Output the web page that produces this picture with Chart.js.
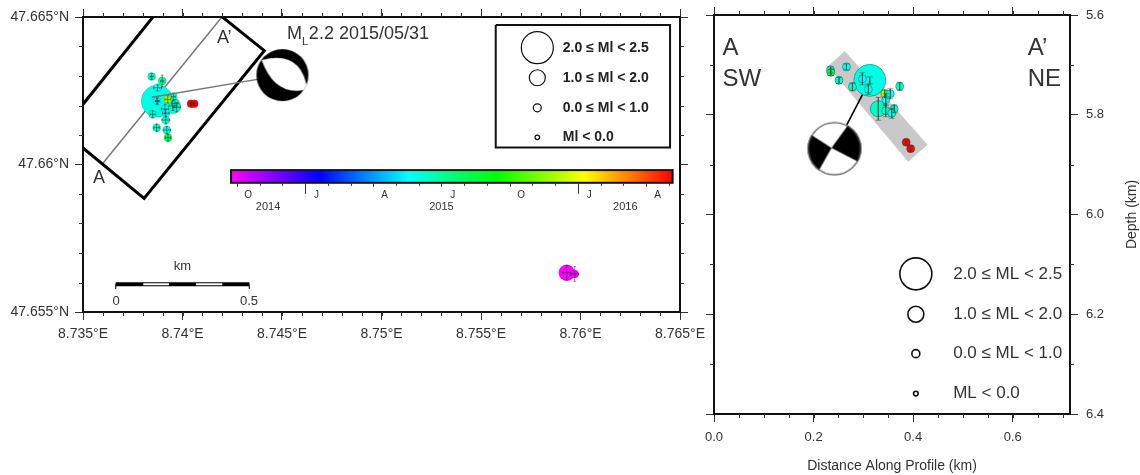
<!DOCTYPE html>
<html>
<head>
<meta charset="utf-8">
<title>ML 2.2 2015/05/31</title>
<script src="https://cdn.jsdelivr.net/npm/chart.js@4"></script>
<style>
    body { margin: 0; background: #fff; width: 1140px; height: 475px; overflow: hidden; }
    canvas { position: absolute; top: 0; }
    #map-chart { left: 0; }
    #profile-chart { left: 700px; }
</style>
</head>
<body>
<canvas id="map-chart" width="720" height="350"></canvas>
<canvas id="profile-chart" width="440" height="475"></canvas>
<script>
// Map view: events
const mapLon = [8.73873, 8.73951, 8.73845, 8.73898, 8.73875, 8.73954, 8.73872, 8.73912, 8.73962, 8.73971, 8.7385, 8.73916, 8.73916, 8.7387, 8.73921, 8.73927, 8.73926, 8.74043, 8.74059, 8.75931, 8.75971];
const mapLat = [47.66215, 47.66199, 47.66298, 47.66283, 47.6626, 47.6623, 47.66215, 47.66188, 47.66207, 47.66194, 47.6617, 47.66151, 47.66174, 47.66125, 47.66117, 47.66091, 47.66221, 47.66206, 47.66206, 47.65633, 47.65629];
const mapMag = [2.2, 1.3, 0.5, 0.4, 0.5, 0.3, 0.6, 0.5, 0.4, 0.5, 0.3, 0.5, 0.4, 0.5, 0.6, 0.5, 0.6, 0.4, 0.4, 1.2, 0.5];
const mapDate = [2015.41, 2015.45, 2015.44, 2015.51, 2015.39, 2015.44, 2015.39, 2015.39, 2015.44, 2015.44, 2015.44, 2015.45, 2015.39, 2015.44, 2015.41, 2015.592, 2015.889, 2016.34, 2016.34, 2014.735, 2014.735];
const mapLonErr = [0.0001, 0.0002, 0.00008, 0.00008, 0.0002, 0.0001, 0.00008, 0.00018, 0.00016, 0.00018, 0.00012, 0.0002, 0.00016, 0.00014, 0.00018, 0.00012, 0.00014, 0.00012, 0.00012, 0.0002, 0.0002];
const mapLatErr = [0.0001, 0.00016, 0.0001, 0.0002, 0.0001, 0.00012, 0.0001, 0.00016, 0.00014, 0.00016, 0.00012, 0.00014, 0.00012, 0.00012, 0.00012, 0.00012, 0.00012, 0.00006, 0.00006, 0.00025, 0.00025];

// Profile view: events
const profDist = [0.313, 0.33, 0.234, 0.2346, 0.266, 0.251, 0.278, 0.298, 0.31, 0.373, 0.343, 0.354, 0.345, 0.345, 0.362, 0.357, 0.386, 0.395];
const profDepth = [5.731, 5.788, 5.71, 5.715, 5.704, 5.731, 5.744, 5.728, 5.749, 5.743, 5.758, 5.758, 5.77, 5.792, 5.788, 5.797, 5.855, 5.868];
const profMag = [2.2, 1.3, 0.5, 0.6, 0.4, 0.5, 0.5, 0.5, 0.5, 0.4, 0.6, 0.5, 0.5, 0.5, 0.5, 0.5, 0.4, 0.4];
const profDate = [2015.41, 2015.45, 2015.39, 2015.592, 2015.39, 2015.44, 2015.44, 2015.39, 2015.39, 2015.44, 2015.889, 2015.39, 2015.39, 2015.44, 2015.44, 2015.39, 2016.34, 2016.34];
const profDepthErr = [0.007, 0.023, 0.006, 0.006, 0.006, 0.006, 0.008, 0.012, 0.01, 0.008, 0.008, 0.01, 0.012, 0.012, 0.008, 0.01, 0.005, 0.005];

// Swath outline and cross section on the map
const swathLon = [8.73988, 8.74411, 8.73807, 8.73394, 8.73988];
const swathLat = [47.66615, 47.66386, 47.65885, 47.66115, 47.66615];
const sectionLon = [8.73601, 8.74198];
const sectionLat = [47.66005, 47.665];

// Grey band on the profile
const bandDist = [0.2627, 0.429, 0.39, 0.229, 0.2627];
const bandDepth = [5.672, 5.86, 5.894, 5.703, 5.672];

// Focal mechanisms and their leader lines
const mapBallLon = [8.74502];
const mapBallLat = [47.66303];
const mapLeaderLon = [8.73846, 8.74502];
const mapLeaderLat = [47.66228, 47.66303];
const profBallDist = [0.242];
const profBallDepth = [5.868];
const profLeaderDist = [0.313, 0.242];
const profLeaderDepth = [5.731, 5.868];

// Legends
const legendMags = [2.2, 1.5, 0.5, -0.5];
const mapLegendLon = [8.75783, 8.75783, 8.75783, 8.75783];
const mapLegendLat = [47.66396, 47.66294, 47.66192, 47.66092];
const mapLegendText = ['2.0 ≤ Ml < 2.5', '1.0 ≤ Ml < 2.0', '0.0 ≤ Ml < 1.0', 'Ml < 0.0'];
const mapLegendBoxLon = [8.75574, 8.7645, 8.7645, 8.75574, 8.75574];
const mapLegendBoxLat = [47.66473, 47.66473, 47.66058, 47.66058, 47.66473];
const profLegendDist = [0.4054, 0.4054, 0.4054, 0.4054];
const profLegendDepth = [6.119, 6.2, 6.279, 6.359];
const profLegendText = ['2.0 ≤ ML < 2.5', '1.0 ≤ ML < 2.0', '0.0 ≤ ML < 1.0', 'ML < 0.0'];

// Scale bar
const scaleBarLon = [8.73664, 8.73803, 8.73932, 8.74068, 8.742, 8.74336];
const scaleBarLat = 47.65594;

// Axis ticks
const lonTicks = [8.735, 8.74, 8.745, 8.75, 8.755, 8.76, 8.765];
const latTicks = [47.655, 47.66, 47.665];
const distTicks = [0, 0.2, 0.4, 0.6];
const depthTicks = [5.6, 5.8, 6.0, 6.2, 6.4];

// Colour bar, time range and tick labels
const barLon = [8.74244, 8.76463];
const barLat = [47.65981, 47.65938];
const barStart = 2014.729;
const barEnd = 2016.347;
const barQuarterDates = [2014.75, 2015, 2015.25, 2015.5, 2015.75, 2016, 2016.25];
const barQuarterLabels = ['O', 'J', 'A', 'J', 'O', 'J', 'A'];
const barYears = [2014, 2015, 2016];

const TEXT_COLOR = '#333';
const FONT = '"Liberation Sans", Arial, sans-serif';

function zip(xs, ys) {
    return xs.map((x, i) => ({ x: x, y: ys[i] }));
}

function colorForDate(date) {
    const f = Math.min(1, Math.max(0, (date - barStart) / (barEnd - barStart)));
    return `hsl(${300 * (1 - f)}, 100%, 50%)`;
}

function radiusForMag(mag) {
    if (mag >= 2) return 16;
    if (mag >= 1) return 8;
    if (mag >= 0) return 4;
    return 2.3;
}

function lineSet(points, color, width, extra) {
    return Object.assign({
        data: points,
        showLine: true,
        borderColor: color,
        borderWidth: width,
        pointRadius: 0,
        tension: 0
    }, extra || {});
}

function eventSet(xs, ys, mags, dates, outline) {
    return {
        data: zip(xs, ys),
        pointRadius: mags.map(radiusForMag),
        pointBackgroundColor: dates.map(colorForDate),
        pointBorderColor: outline,
        pointBorderWidth: 0.7
    };
}

function legendSet(xs, ys, width) {
    return {
        data: zip(xs, ys),
        pointRadius: legendMags.map(radiusForMag),
        pointBackgroundColor: 'rgba(0,0,0,0)',
        pointBorderColor: '#111',
        pointBorderWidth: width
    };
}

// Error bars with caps as one broken line
function errorPoints(xs, ys, xErr, yErr, capX, capY) {
    const pts = [];
    const gap = { x: null, y: null };
    xs.forEach((x, i) => {
        const y = ys[i];
        pts.push({ x: x, y: y - yErr[i] }, { x: x, y: y + yErr[i] }, gap);
        pts.push({ x: x - capX, y: y - yErr[i] }, { x: x + capX, y: y - yErr[i] }, gap);
        pts.push({ x: x - capX, y: y + yErr[i] }, { x: x + capX, y: y + yErr[i] }, gap);
        if (xErr) {
            pts.push({ x: x - xErr[i], y: y }, { x: x + xErr[i], y: y }, gap);
            pts.push({ x: x - xErr[i], y: y - capY }, { x: x - xErr[i], y: y + capY }, gap);
            pts.push({ x: x + xErr[i], y: y - capY }, { x: x + xErr[i], y: y + capY }, gap);
        }
    });
    return pts;
}

function ballCanvas(radius, paint) {
    const c = document.createElement('canvas');
    c.width = c.height = radius * 2 + 2;
    const ctx = c.getContext('2d');
    ctx.translate(radius + 1, radius + 1);
    ctx.scale(radius, radius);
    ctx.beginPath();
    ctx.arc(0, 0, 1, 0, Math.PI * 2);
    ctx.save();
    ctx.clip();
    paint(ctx);
    ctx.restore();
    return c;
}

// Mostly black ball with one white lens
const mapBallStyle = ballCanvas(26, ctx => {
    ctx.fillStyle = '#000';
    ctx.fillRect(-1, -1, 2, 2);
    ctx.fillStyle = '#fff';
    ctx.beginPath();
    ctx.moveTo(-0.8, -0.58);
    ctx.quadraticCurveTo(0.72, -0.985, 0.96, 0.55);
    ctx.quadraticCurveTo(-0.28, 0.855, -0.8, -0.58);
    ctx.fill();
});

// Strike slip ball, two black wedges
const profBallStyle = ballCanvas(27, ctx => {
    ctx.fillStyle = '#fff';
    ctx.fillRect(-1, -1, 2, 2);
    ctx.fillStyle = '#000';
    const wedge = (ax, ay, bx, by) => {
        ctx.beginPath();
        ctx.moveTo(-0.11, -0.03);
        ctx.lineTo(ax * 1.3, ay * 1.3);
        ctx.lineTo((ax + bx) * 1.3, (ay + by) * 1.3);
        ctx.lineTo(bx * 1.3, by * 1.3);
        ctx.closePath();
        ctx.fill();
    };
    wedge(0.51, -0.84, 0.95, 0.51);
    wedge(-0.86, -0.52, -0.55, 0.81);
    ctx.strokeStyle = '#555';
    ctx.lineWidth = 0.05;
    ctx.beginPath();
    ctx.arc(0, 0, 0.97, 0, Math.PI * 2);
    ctx.stroke();
});

function stacked(list) {
    // first in the list is painted first
    return list.map((d, i) => Object.assign(d, { order: list.length - i }));
}

function axisOptions(position, ticks, size, label) {
    const horizontal = position === 'top' || position === 'bottom';
    return {
        type: 'linear',
        position: position,
        afterBuildTicks: axis => { axis.ticks = ticks.map(v => ({ value: v })); },
        afterFit: axis => {
            if (horizontal) axis.height = size; else axis.width = size;
            // keep the chart area where it is, labels may hang over the corners
            axis.paddingLeft = axis.paddingRight = axis.paddingTop = axis.paddingBottom = 0;
        },
        grid: { drawOnChartArea: false, tickLength: 8, tickColor: TEXT_COLOR, tickWidth: 1 },
        border: { display: true, color: '#111', width: 2 },
        ticks: {
            display: !!label,
            autoSkip: false,
            maxRotation: 0,
            color: TEXT_COLOR,
            font: { family: FONT, size: 14 },
            padding: 6,
            callback: label || (v => v)
        }
    };
}

// Minor ticks on all four sides, drawn from the chart's scales
function minorTickPlugin(xMinor, yMinor, xKey, yKey) {
    return {
        id: 'minorTicks',
        afterDraw(chart) {
            const ctx = chart.ctx;
            const a = chart.chartArea;
            const xs = chart.scales[xKey];
            const ys = chart.scales[yKey];
            ctx.save();
            ctx.strokeStyle = TEXT_COLOR;
            ctx.lineWidth = 1;
            ctx.beginPath();
            xMinor.forEach(v => {
                const p = Math.round(xs.getPixelForValue(v)) + 0.5;
                ctx.moveTo(p, a.top); ctx.lineTo(p, a.top - 4);
                ctx.moveTo(p, a.bottom); ctx.lineTo(p, a.bottom + 4);
            });
            yMinor.forEach(v => {
                const p = Math.round(ys.getPixelForValue(v)) + 0.5;
                ctx.moveTo(a.left, p); ctx.lineTo(a.left - 4, p);
                ctx.moveTo(a.right, p); ctx.lineTo(a.right + 4, p);
            });
            ctx.stroke();
            ctx.restore();
        }
    };
}

// Text placed in data coordinates
function textPlugin(items, xKey, yKey) {
    return {
        id: 'textMarks',
        afterDatasetsDraw(chart) {
            const ctx = chart.ctx;
            const xs = chart.scales[xKey];
            const ys = chart.scales[yKey];
            items.forEach(item => {
                ctx.save();
                ctx.translate(xs.getPixelForValue(item.x), ys.getPixelForValue(item.y));
                if (item.rotate) ctx.rotate(item.rotate);
                ctx.font = `${item.weight || 'normal'} ${item.size}px ${FONT}`;
                ctx.fillStyle = item.color || TEXT_COLOR;
                ctx.textAlign = item.align || 'left';
                ctx.textBaseline = item.baseline || 'alphabetic';
                ctx.fillText(item.text, 0, 0);
                ctx.restore();
            });
        }
    };
}

function barDateToPixel(date, xs) {
    const lon = barLon[0] + (date - barStart) / (barEnd - barStart) * (barLon[1] - barLon[0]);
    return xs.getPixelForValue(lon);
}

const colorBarPlugin = {
    id: 'colorBar',
    afterDatasetsDraw(chart) {
        const ctx = chart.ctx;
        const xs = chart.scales.x;
        const ys = chart.scales.y;
        const left = xs.getPixelForValue(barLon[0]);
        const right = xs.getPixelForValue(barLon[1]);
        const top = ys.getPixelForValue(barLat[0]);
        const bottom = ys.getPixelForValue(barLat[1]);

        const grad = ctx.createLinearGradient(left, 0, right, 0);
        for (let i = 0; i <= 10; i++) {
            grad.addColorStop(i / 10, `hsl(${300 - 30 * i}, 100%, 50%)`);
        }
        ctx.save();
        ctx.fillStyle = grad;
        ctx.fillRect(left, top, right - left, bottom - top);
        ctx.strokeStyle = '#111';
        ctx.lineWidth = 2;
        ctx.strokeRect(left, top, right - left, bottom - top);

        ctx.strokeStyle = TEXT_COLOR;
        ctx.lineWidth = 1;
        ctx.beginPath();
        for (let m = 0; m < 20; m++) {
            const date = 2014.75 + m / 12;
            if (date > barEnd) break;
            const p = Math.round(barDateToPixel(date, xs)) + 0.5;
            let len = 3;
            if (m % 3 === 0) len = 4;
            if (m === 3 || m === 15) len = 11;
            ctx.moveTo(p, bottom);
            ctx.lineTo(p, bottom + len);
        }
        ctx.stroke();

        ctx.fillStyle = TEXT_COLOR;
        ctx.textAlign = 'center';
        ctx.textBaseline = 'middle';
        ctx.font = `10px ${FONT}`;
        barQuarterDates.forEach((date, i) => {
            ctx.fillText(barQuarterLabels[i], barDateToPixel(date + 1 / 24, xs), bottom + 12);
        });
        ctx.font = `11px ${FONT}`;
        barYears.forEach(year => {
            const from = Math.max(year, barStart);
            const to = Math.min(year + 1, barEnd);
            ctx.fillText(String(year), barDateToPixel((from + to) / 2, xs), bottom + 24.5);
        });
        ctx.restore();
    }
};

const lonMinor = [];
for (let i = 1; i < 30; i++) lonMinor.push(8.735 + i * 0.001);
const latMinor = [];
for (let i = 1; i < 10; i++) latMinor.push(47.655 + i * 0.001);
const distMinor = [];
for (let i = 1; i <= 14; i++) distMinor.push(i * 0.05);
const depthMinor = [5.7, 5.9, 6.1, 6.3];

const mapTexts = [
    { text: 'A', x: 8.7355, y: 47.65937, size: 18 },
    { text: 'A’', x: 8.74173, y: 47.66412, size: 18 },
    { text: 'M', x: 8.74525, y: 47.66425, size: 18 },
    { text: 'L', x: 8.746, y: 47.66405, size: 11 },
    { text: '2.2 2015/05/31', x: 8.74635, y: 47.66425, size: 18 },
    { text: 'km', x: 8.74, y: 47.65656, size: 13, align: 'center', baseline: 'middle' },
    { text: '0', x: 8.73666, y: 47.65535, size: 13, align: 'center', baseline: 'middle' },
    { text: '0.5', x: 8.74334, y: 47.65535, size: 13, align: 'center', baseline: 'middle' }
].concat(mapLegendText.map((t, i) => ({
    text: t, x: 8.75911, y: mapLegendLat[i], size: 14, weight: 'bold', baseline: 'middle', color: '#222'
})));

const profTexts = [
    { text: 'A', x: 0.0169, y: 5.68, size: 24 },
    { text: 'SW', x: 0.0169, y: 5.742, size: 24 },
    { text: 'A’', x: 0.63, y: 5.68, size: 24 },
    { text: 'NE', x: 0.63, y: 5.742, size: 24 },
    { text: 'Depth (km)', x: 0.8395, y: 6.0, size: 14, align: 'center', baseline: 'middle', rotate: -Math.PI / 2 }
].concat(profLegendText.map((t, i) => ({
    text: t, x: 0.4804, y: profLegendDepth[i], size: 17, baseline: 'middle'
})));

new Chart(document.getElementById('map-chart'), {
    type: 'scatter',
    data: {
        datasets: stacked([
            lineSet(zip(sectionLon, sectionLat), '#777', 1.5),
            lineSet(zip(swathLon, swathLat), '#000', 3),
            eventSet(mapLon, mapLat, mapMag, mapDate, 'rgba(0,0,0,0.2)'),
            lineSet(errorPoints(mapLon, mapLat, mapLonErr, mapLatErr, 0.00006, 0.00004), 'rgba(40,40,40,0.75)', 0.7),
            lineSet(zip(mapLeaderLon, mapLeaderLat), '#777', 1.3),
            {
                data: zip(mapBallLon, mapBallLat),
                pointStyle: mapBallStyle,
                pointRadius: 26
            },
            legendSet(mapLegendLon, mapLegendLat, 1.2),
            lineSet(zip(mapLegendBoxLon, mapLegendBoxLat), '#111', 2),
            lineSet(zip(
                [scaleBarLon[0], scaleBarLon[5]],
                [scaleBarLat, scaleBarLat]
            ), '#000', 4),
            lineSet(zip(
                [scaleBarLon[1], scaleBarLon[2], null, scaleBarLon[3], scaleBarLon[4]],
                [scaleBarLat, scaleBarLat, null, scaleBarLat, scaleBarLat]
            ), '#fff', 2),
            lineSet([
                { x: scaleBarLon[0], y: scaleBarLat }, { x: scaleBarLon[0], y: scaleBarLat - 0.00015 }, { x: null, y: null },
                { x: scaleBarLon[5], y: scaleBarLat }, { x: scaleBarLon[5], y: scaleBarLat - 0.00015 }
            ], '#333', 1)
        ])
    },
    options: {
        responsive: false,
        animation: false,
        layout: { padding: 0, autoPadding: false },
        plugins: { legend: { display: false }, tooltip: { enabled: false } },
        scales: {
            x: Object.assign(axisOptions('bottom', lonTicks, 38, v => String(+v.toFixed(3)) + '°E'), { min: 8.735, max: 8.765 }),
            xTop: Object.assign(axisOptions('top', lonTicks, 17), { min: 8.735, max: 8.765 }),
            y: Object.assign(axisOptions('left', latTicks, 83, v => String(+v.toFixed(3)) + '°N'), { min: 47.655, max: 47.665 }),
            yRight: Object.assign(axisOptions('right', latTicks, 40), { min: 47.655, max: 47.665 })
        }
    },
    plugins: [minorTickPlugin(lonMinor, latMinor, 'x', 'y'), colorBarPlugin, textPlugin(mapTexts, 'x', 'y')]
});

const profX = Object.assign(axisOptions('bottom', distTicks, 61, v => v.toFixed(1)), { min: 0, max: 0.715 });
profX.ticks.font = { family: FONT, size: 13 };
profX.ticks.padding = 8;
profX.title = {
    display: true,
    text: 'Distance Along Profile (km)',
    color: TEXT_COLOR,
    font: { family: FONT, size: 14 },
    padding: 0
};
const profY = Object.assign(axisOptions('right', depthTicks, 70, v => v.toFixed(1)), { min: 5.6, max: 6.4, reverse: true });
profY.ticks.font = { family: FONT, size: 13 };
profY.ticks.padding = 8;

new Chart(document.getElementById('profile-chart'), {
    type: 'scatter',
    data: {
        datasets: stacked([
            lineSet(zip(bandDist, bandDepth), 'rgba(0,0,0,0)', 0, { fill: 'shape', backgroundColor: '#c9c9c9' }),
            lineSet(zip(profLeaderDist, profLeaderDepth), '#000', 1.6),
            {
                data: zip(profBallDist, profBallDepth),
                pointStyle: profBallStyle,
                pointRadius: 27
            },
            eventSet(profDist, profDepth, profMag, profDate, 'rgba(0,60,60,0.6)'),
            lineSet(errorPoints(profDist, profDepth, null, profDepthErr, 0.006, 0), 'rgba(60,60,60,0.7)', 0.7),
            legendSet(profLegendDist, profLegendDepth, 1.6)
        ])
    },
    options: {
        responsive: false,
        animation: false,
        layout: { padding: 0, autoPadding: false },
        plugins: { legend: { display: false }, tooltip: { enabled: false } },
        scales: {
            x: profX,
            xTop: Object.assign(axisOptions('top', distTicks, 15), { min: 0, max: 0.715 }),
            y: profY,
            yLeft: Object.assign(axisOptions('left', depthTicks, 14), { min: 5.6, max: 6.4, reverse: true })
        }
    },
    plugins: [minorTickPlugin(distMinor, depthMinor, 'x', 'y'), textPlugin(profTexts, 'x', 'y')]
});
</script>
</body>
</html>
